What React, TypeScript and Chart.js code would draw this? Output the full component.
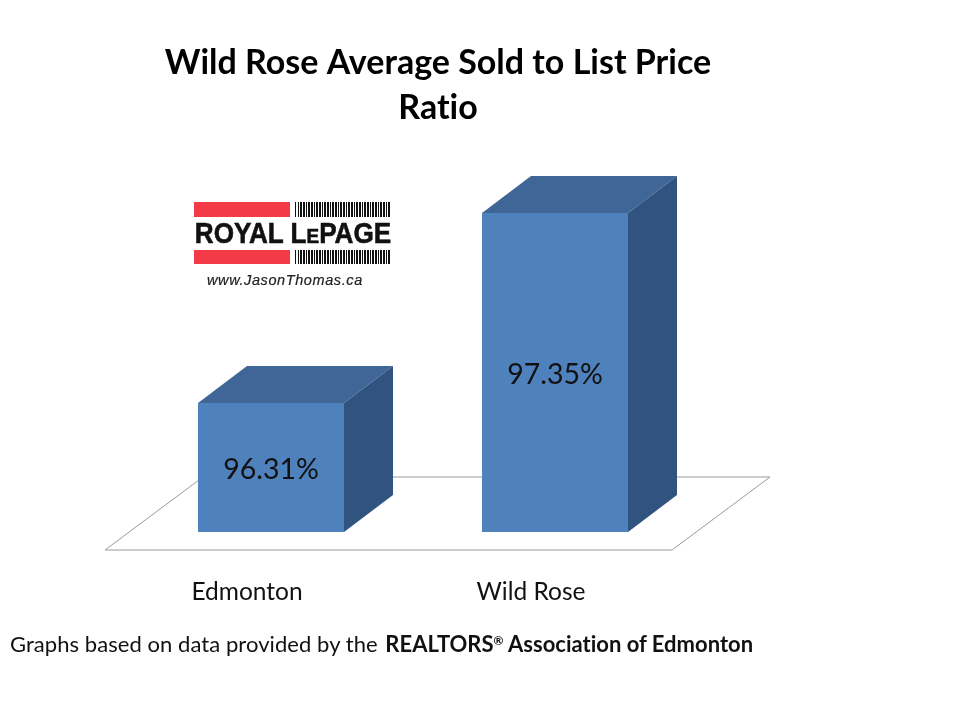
import React, { useEffect, useRef } from "react";
import { Chart, registerables } from "chart.js";

Chart.register(...registerables);

const categories = ["Edmonton", "Wild Rose"];
const ratios = [96.31, 97.35];
const valueLabels = ["96.31%", "97.35%"];
const titleLines = ["Wild Rose Average Sold to List Price", "Ratio"];
const axisMin = 95.604;
const axisMax = 97.695;

const FRONT = "#4f81bd";
const TOP = "#3f6696";
const SIDE = "#315380";
const DEPTH_X = 49;
const DEPTH_Y = 37;

const poly = (ctx: CanvasRenderingContext2D, pts: number[][], fill: string) => {
  ctx.beginPath();
  pts.forEach(([x, y], i) => (i ? ctx.lineTo(x, y) : ctx.moveTo(x, y)));
  ctx.closePath();
  ctx.fillStyle = fill;
  ctx.fill();
};

const floorPlugin = {
  id: "floor3d",
  beforeDraw(chart: any) {
    chart.ctx.textRendering = "optimizeSpeed";
  },
  beforeDatasetsDraw(chart: any) {
    const { ctx, chartArea } = chart;
    const b = chartArea.bottom;
    const l = chartArea.left;
    const r = chartArea.right;
    ctx.save();
    ctx.beginPath();
    ctx.moveTo(l - 24, b + 18);
    ctx.lineTo(l + 74, b - 55);
    ctx.lineTo(r + 73, b - 55);
    ctx.lineTo(r - 25, b + 18);
    ctx.closePath();
    ctx.strokeStyle = "#9a9a9a";
    ctx.lineWidth = 1;
    ctx.stroke();
    ctx.restore();
  },
};

const bar3dPlugin = {
  id: "bar3d",
  afterDatasetsDraw(chart: any) {
    const { ctx } = chart;
    const meta = chart.getDatasetMeta(0);
    const base = chart.scales.y.getPixelForValue(axisMin);
    ctx.save();
    meta.data.forEach((bar: any, i: number) => {
      const { x, y, width } = bar.getProps(["x", "y", "width"], true);
      const l = x - width / 2;
      const r = x + width / 2;
      poly(ctx, [[l, y], [l + DEPTH_X, y - DEPTH_Y], [r + DEPTH_X, y - DEPTH_Y], [r, y]], TOP);
      poly(ctx, [[r, y], [r + DEPTH_X, y - DEPTH_Y], [r + DEPTH_X, base - DEPTH_Y], [r, base]], SIDE);
      ctx.fillStyle = "#111";
      ctx.font = "28.5px Lato";
      ctx.textAlign = "center";
      ctx.textBaseline = "middle";
      ctx.fillText(valueLabels[i], x, (y + base) / 2 + 2);
    });
    ctx.restore();
  },
};

export default function App() {
  const ref = useRef<HTMLCanvasElement | null>(null);
  useEffect(() => {
    const chart = new Chart(ref.current!, {
      type: "bar",
      data: {
        labels: categories,
        datasets: [
          {
            data: ratios,
            base: axisMin,
            backgroundColor: FRONT,
            barPercentage: 146 / 284,
            categoryPercentage: 1,
          },
        ],
      },
      options: {
        responsive: false,
        animation: false,
        layout: { padding: { left: 129, right: 213, top: 0, bottom: 0 } },
        plugins: {
          legend: { display: false },
          tooltip: { enabled: false },
          title: {
            display: true,
            text: titleLines,
            color: "#000",
            font: { family: "Lato", size: 34, weight: "bold", lineHeight: 45 / 34 },
            padding: { top: 41, bottom: 19 },
          },
        },
        scales: {
          x: {
            grid: { display: false, drawTicks: false },
            border: { display: false },
            ticks: { color: "#111", font: { family: "Lato", size: 24.5 }, padding: 45, labelOffset: -24, maxRotation: 0 },
            afterFit: (s: any) => {
              s.height = 188;
            },
          },
          y: {
            position: "right",
            min: axisMin,
            max: axisMax,
            grid: { display: false },
            border: { display: false },
            ticks: { display: false },
            afterFit: (s: any) => {
              s.width = 50;
            },
          },
        },
      },
      plugins: [floorPlugin, bar3dPlugin],
    } as any);
    return () => chart.destroy();
  }, []);

  const stripes = "repeating-linear-gradient(90deg,#111 0 1.5px,#fff 1.5px 2.67px)";
  const abs = (left: number, top: number, width: number, height: number, background: string, blur = false) => (
    <div style={{ position: "absolute", left, top, width, height, background, filter: blur ? "blur(0.35px)" : undefined }} />
  );

  return (
    <div style={{ position: "absolute", left: 0, top: 0, width: 960, height: 720, background: "#fff", overflow: "hidden" }}>
      <canvas ref={ref} width={960} height={720} style={{ position: "absolute", left: 0, top: 0 }} />
      {abs(194, 202, 96, 15, "#f23b47")}
      {abs(295, 202, 96, 15, stripes, true)}
      {abs(194, 250, 96, 14, "#f23b47")}
      {abs(295, 250, 96, 14, stripes, true)}
      <div style={{ position: "absolute", left: 173, top: 218, width: 240, textAlign: "center", whiteSpace: "nowrap", fontFamily: "'Liberation Sans'", fontWeight: 700, fontSize: 29, lineHeight: "30px", color: "#111", transform: "scaleX(0.9)", WebkitTextStroke: "0.6px #111" }}>
        ROYAL L<span style={{ fontSize: 21 }}>E</span>PAGE
      </div>
      <div style={{ position: "absolute", left: 207, top: 272, whiteSpace: "nowrap", fontFamily: "'Liberation Sans'", fontStyle: "italic", fontSize: 14.5, lineHeight: "17px", letterSpacing: 0.6, color: "#222", WebkitTextStroke: "0.2px #222" }}>
        www.JasonThomas.ca
      </div>
      <div style={{ position: "absolute", left: 10, top: 630, whiteSpace: "nowrap", fontFamily: "Lato", fontSize: 22, lineHeight: "28px", color: "#111", fontVariantLigatures: "none" }}>
        <span style={{ letterSpacing: 0.06 }}>Graphs based on data provided by the</span>{" "}
        <b style={{ fontSize: 22, marginLeft: 2 }}>
          REALTORS<sup style={{ fontSize: 12, lineHeight: 0, verticalAlign: "7px" }}>®</sup> Association of Edmonton
        </b>
      </div>
    </div>
  );
}
